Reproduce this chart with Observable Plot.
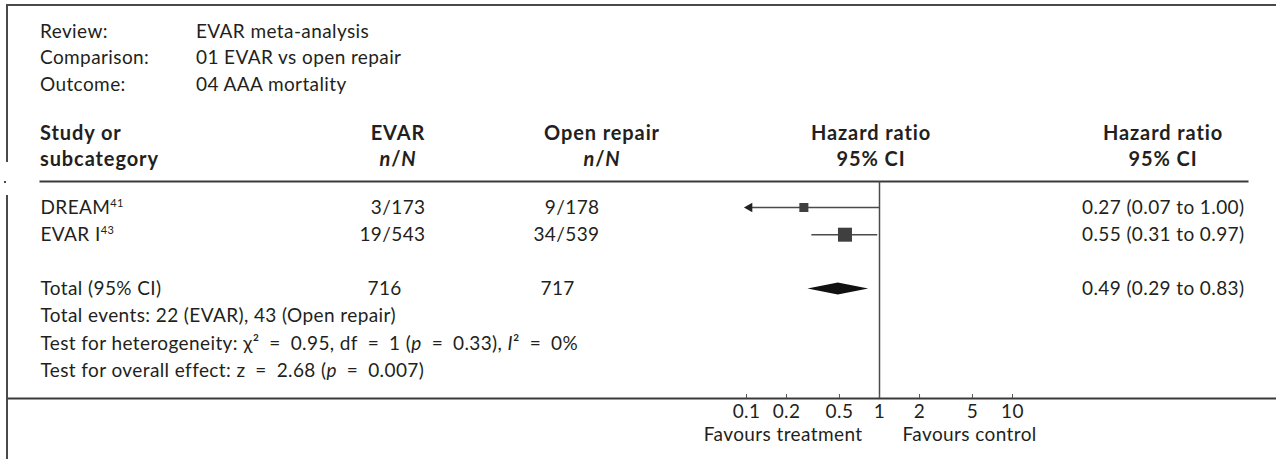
<!DOCTYPE html>
<html><head><meta charset="utf-8">
<script src="https://cdn.jsdelivr.net/npm/d3@7"></script>
<script src="https://cdn.jsdelivr.net/npm/@observablehq/plot@0.6"></script>
<style>
html,body{margin:0;padding:0;background:#fff;}
#wrap{position:relative;width:1276px;height:459px;overflow:hidden;font-family:Lato,"Open Sans",sans-serif;color:#231f20;font-size:19px;letter-spacing:0.4px;}
#wrap svg{position:absolute;left:0;top:0;}
.t{position:absolute;white-space:nowrap;line-height:20px;height:20px;}
.b{font-weight:bold;font-size:20px;letter-spacing:0.9px;}
.c{transform:translateX(-50%);}
.ln{position:absolute;background:#4a4a4a;}
</style></head><body><div id="wrap"></div>
<script>
// ---- data ----
const metaLabels = ["Review:", "Comparison:", "Outcome:"];
const metaValues = ["EVAR meta-analysis", "01 EVAR vs open repair", "04 AAA mortality"];
const colHeads = [["Study or", "subcategory"], ["EVAR", "n/N"], ["Open repair", "n/N"], ["Hazard ratio", "95% CI"], ["Hazard ratio", "95% CI"]];
const studies = ["DREAM", "EVAR I"];
const refs = ["41", "43"];
const evarEvents = [3, 19];
const evarTotal = [173, 543];
const openEvents = [9, 34];
const openTotal = [178, 539];
const hr = [0.27, 0.55];
const lower = [0.07, 0.31];
const upper = [1.00, 0.97];
const boxWeight = [16, 84];
const totalLabel = "Total (95% CI)";
const totalN = [716, 717];
const pooledHR = [0.49];
const pooledLower = [0.29];
const pooledUpper = [0.83];
const totalEvents = [22, 43];
const hetStats = {chi2: 0.95, df: 1, p: 0.33, I2: 0};
const effectStats = {z: 2.68, p: 0.007};
const ticks = [0.1, 0.2, 0.5, 1, 2, 5, 10];
const favours = ["Favours treatment", "Favours control"];

// ---- layout helpers ----
const wrap = document.getElementById("wrap");
const xMin = 0.1, xMax = 10;
const rowIdx = studies.map((d, i) => i);     // study rows 0,1
const totalRow = 3, footRows = [4, 5, 6];
const EQ = "\u2002=\u2002";

const fmt2 = v => v.toFixed(2);
const ciText = (e, l, u) => `${fmt2(e)} (${fmt2(l)} to ${fmt2(u)})`;
const footTexts = [
  `Total events: ${totalEvents[0]} (EVAR), ${totalEvents[1]} (Open repair)`,
  `Test for heterogeneity: χ²${EQ}${hetStats.chi2.toFixed(2)}, df${EQ}${hetStats.df} (p${EQ}${hetStats.p.toFixed(2)}), I²${EQ}${hetStats.I2}%`,
  `Test for overall effect: z${EQ}${effectStats.z.toFixed(2)} (p${EQ}${effectStats.p})`
];
const diamondH = 0.22;
const diamond = [
  {x: pooledLower[0], y1: totalRow, y2: totalRow},
  {x: pooledHR[0], y1: totalRow - diamondH, y2: totalRow + diamondH},
  {x: pooledUpper[0], y1: totalRow, y2: totalRow}
];
const ink = "#231f20";

const plot = Plot.plot({
  width: 1276, height: 459,
  marginTop: 181, marginBottom: 61, marginLeft: 7, marginRight: 0,
  style: {fontFamily: "Lato, 'Open Sans', sans-serif", fontSize: "19px", letterSpacing: "0.4px", color: ink, background: "transparent"},
  x: {type: "log", domain: [xMin, xMax], range: [746, 1012], label: null},
  y: {type: "linear", domain: [0, 6], range: [207, 370.2], axis: null},
  r: {type: "linear", domain: [d3.min(boxWeight), d3.max(boxWeight)], range: [5.1, 7.9]},
  marks: [
    Plot.frame({anchor: "top", insetLeft: 33, insetRight: 29, stroke: "#3a3a3a", strokeWidth: 2}),
    Plot.frame({anchor: "bottom", stroke: "#3a3a3a", strokeWidth: 2}),
    Plot.ruleX([1], {stroke: "#4a4a4a", strokeWidth: 1.5}),
    Plot.axisX({ticks, tickFormat: d => String(d), tickSize: -4, tickPadding: 10, fontSize: 19, stroke: "#555", label: null}),
    // CI lines
    Plot.ruleY(rowIdx, {y: i => i, x1: i => Math.max(lower[i], xMin), x2: i => upper[i], stroke: "#4a4a4a", strokeWidth: 1.5}),
    Plot.dot(rowIdx.filter(i => lower[i] < xMin), {x: () => xMin, y: i => i, symbol: "triangle", rotate: -90, r: 3.6, dx: 3, fill: "#222"}),
    Plot.dot(rowIdx, {x: i => hr[i], y: i => i, r: i => boxWeight[i], symbol: "square", fill: "#3f3f3f"}),
    Plot.areaY(diamond, {x: "x", y1: "y1", y2: "y2", fill: "#111"}),
    // table text
    Plot.text(rowIdx, {y: i => i, text: i => studies[i], frameAnchor: "left", dx: 33, textAnchor: "start", fill: ink}),
    Plot.text(rowIdx, {y: i => i, text: i => `${evarEvents[i]}/${evarTotal[i]}`, frameAnchor: "left", dx: 418, textAnchor: "end", fill: ink}),
    Plot.text(rowIdx, {y: i => i, text: i => `${openEvents[i]}/${openTotal[i]}`, frameAnchor: "left", dx: 592, textAnchor: "end", fill: ink}),
    Plot.text(rowIdx, {y: i => i, text: i => ciText(hr[i], lower[i], upper[i]), frameAnchor: "right", dx: -32, textAnchor: "end", fill: ink}),
    Plot.text([totalLabel], {y: () => totalRow, text: d => d, frameAnchor: "left", dx: 33, textAnchor: "start", fill: ink}),
    Plot.text([totalN[0]], {y: () => totalRow, text: d => String(d), frameAnchor: "left", dx: 360, textAnchor: "start", fill: ink}),
    Plot.text([totalN[1]], {y: () => totalRow, text: d => String(d), frameAnchor: "left", dx: 533, textAnchor: "start", fill: ink}),
    Plot.text([0], {y: () => totalRow, text: () => ciText(pooledHR[0], pooledLower[0], pooledUpper[0]), frameAnchor: "right", dx: -32, textAnchor: "end", fill: ink}),
    Plot.text(footTexts, {y: (d, i) => footRows[i], text: d => d, frameAnchor: "left", dx: 33, textAnchor: "start", fill: ink}),
    Plot.text([favours[0]], {x: () => 1, text: d => d, frameAnchor: "bottom", dy: 42, dx: -17, textAnchor: "end", fill: ink}),
    Plot.text([favours[1]], {x: () => 1, text: d => d, frameAnchor: "bottom", dy: 42, dx: 23, textAnchor: "start", fill: ink})
  ]
});
wrap.appendChild(plot);

// superscripts and italics inside SVG text
plot.querySelectorAll("text").forEach(t => {
  const s = t.textContent;
  const si = studies.indexOf(s);
  if (si >= 0) {
    t.innerHTML = `${s}<tspan dy="-7" font-size="11">${refs[si]}</tspan>`;
  } else if (s.startsWith("Test for")) {
    t.innerHTML = s.replace(/\(p/g, '(<tspan font-style="italic">p</tspan>').replace("I²", '<tspan font-style="italic">I</tspan>²');
  }
});

// header text (HTML)
function addText(txt, x, yc, cls, html) {
  const d = document.createElement("div");
  d.className = "t " + (cls || "");
  if (html) d.innerHTML = txt; else d.textContent = txt;
  d.style.left = x + "px";
  d.style.top = (yc - 10.5) + "px";
  wrap.appendChild(d);
  return d;
}
const metaY = [31, 57, 84];
metaLabels.forEach((l, i) => { addText(l, 40, metaY[i]); addText(metaValues[i], 196, metaY[i]); });
const headY = [132, 158];
const headX = [40, 398, 602, 871, 1163];
colHeads.forEach((h, ci) => {
  h.forEach((line, li) => {
    const italic = line === "n/N";
    const html = italic ? "<i>n</i>/<i>N</i>" : line;
    addText(html, headX[ci], headY[li], "b" + (ci > 0 ? " c" : ""), true);
  });
});

// outer border lines
function addLine(x, y, w, h) {
  const d = document.createElement("div");
  d.className = "ln";
  Object.assign(d.style, {left: x + "px", top: y + "px", width: w + "px", height: h + "px"});
  wrap.appendChild(d);
}
addLine(7, 4, 1269, 2);
addLine(6, 4, 2, 158);
addLine(6, 195, 2, 264);
addLine(4, 181, 2, 2);
</script></body></html>
